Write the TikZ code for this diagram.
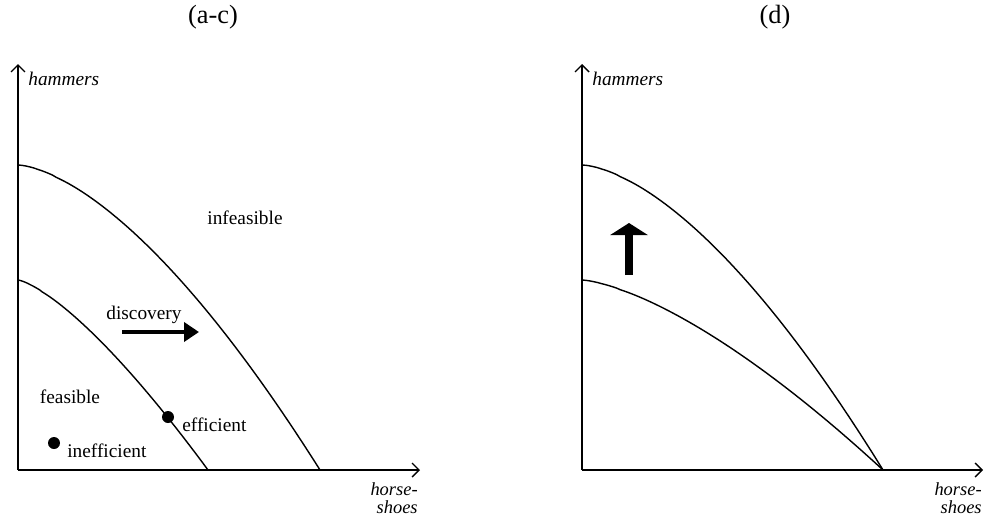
\documentclass[tikz,border=0pt]{standalone}
\usepackage{fontspec}
\setmainfont{Liberation Serif}
\usepackage{tikz}
\usetikzlibrary{arrows.meta}

\tikzset{
  axisline/.style={line width=0.8pt,-{Straight Barb[length=1.4mm,width=2.8mm]}},
  frontier/.style={line width=0.8pt,samples=80},
  lbl/.style={inner sep=0pt,font=\fontsize{11}{13}\selectfont},
  axlbl/.style={inner sep=0pt,align=right,font=\itshape\fontsize{10.5}{10.5}\selectfont},
  ttl/.style={inner sep=0pt,font=\fontsize{15}{18}\selectfont},
  ptdot/.style={circle,fill,inner sep=0pt,minimum size=2.4mm},
}

\begin{document}
\begin{tikzpicture}
  \useasboundingbox (-0.36,-0.92) rectangle (19.32,9.4);
  % left panel (a-c)
  \coordinate (O) at (0,0);
  \coordinate (ytip) at (0,8.12);
  \coordinate (xtip) at (8.04,0);
  \draw[axisline] (O) -- (ytip);
  \draw[axisline] (O) -- (xtip);
  \node[ttl] (ttlL) at (3.9,9.06) {(a-c)};
  \node[lbl,anchor=west] (hamL) at (0.2,7.82) {\textit{hammers}};
  \node[axlbl,anchor=east] (horseL) at (8.0,-0.56) {horse-\\shoes};
  \draw[frontier,domain=0.001:6.04] plot (\x,{6.1*(1-(\x/6.04)^1.57)});
  \draw[frontier,domain=0.001:3.8] plot (\x,{3.8*(1-(\x/3.8)^1.36)});
  \node[lbl] (infeas) at (4.54,5.04) {infeasible};
  \node[lbl] (disc) at (2.52,3.1) {discovery};
  \coordinate (dA) at (2.08,2.76);
  \coordinate (dB) at (3.62,2.76);
  \draw[line width=2.4pt,-{Triangle[length=0.3cm,width=0.38cm]}] (dA) -- (dB);
  \node[lbl] (feas) at (1.04,1.46) {feasible};
  \node[ptdot] (eff) at (3.0,1.06) {};
  \node[lbl,anchor=west] (effL) at (3.28,0.9) {efficient};
  \node[ptdot] (ineff) at (0.72,0.54) {};
  \node[lbl,anchor=west] (ineffL) at (0.98,0.38) {inefficient};
  % right panel (d)
  \begin{scope}[xshift=11.28cm]
    \coordinate (O2) at (0,0);
    \coordinate (ytip2) at (0,8.12);
    \coordinate (xtip2) at (8.02,0);
    \draw[axisline] (O2) -- (ytip2);
    \draw[axisline] (O2) -- (xtip2);
    \node[ttl] (ttlR) at (3.86,9.06) {(d)};
    \node[lbl,anchor=west] (hamR) at (0.2,7.82) {\textit{hammers}};
    \node[axlbl,anchor=east] (horseR) at (8.0,-0.56) {horse-\\shoes};
    \draw[frontier,domain=0.001:6.02] plot (\x,{6.1*(1-(\x/6.02)^1.6)});
    \draw[frontier,domain=0.001:6.02] plot (\x,{3.8*(1-(\x/6.02)^1.46)});
    \coordinate (uA) at (0.94,3.9);
    \coordinate (uB) at (0.94,4.94);
    \draw[line width=4pt,-{Triangle[length=0.24cm,width=0.74cm]}] (uA) -- (uB);
  \end{scope}
\end{tikzpicture}
\end{document}
